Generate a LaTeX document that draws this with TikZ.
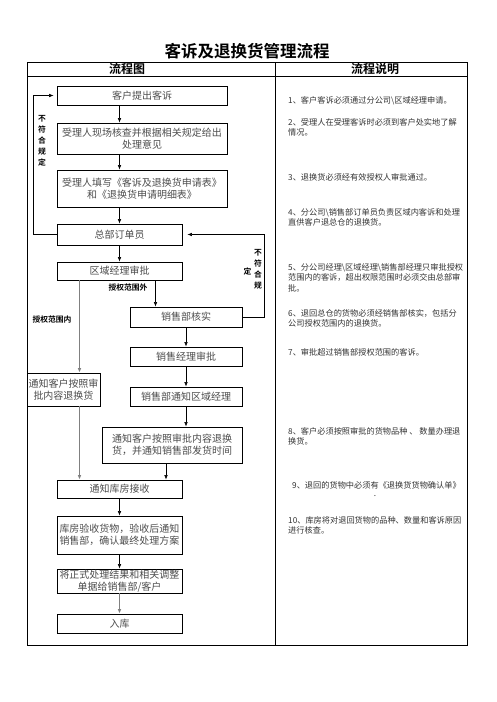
\documentclass[tikz,border=0pt]{standalone}
\usepackage{fontspec}
\setmainfont{Noto Sans CJK SC}
\newfontfamily\cjkbold{Noto Sans CJK SC Bold}
\usetikzlibrary{arrows.meta, positioning, calc}

\begin{document}
\begin{tikzpicture}[x=1pt, y=-1pt,
    box/.style={draw, line width=0.8pt, align=center, inner sep=0pt, text=black!70,
                font=\fontsize{10}{12.5}\selectfont},
    note/.style={anchor=north west, align=left, inner sep=0pt, text=black!80,
                 font=\fontsize{8.2}{10.5}\selectfont},
    tag/.style={inner sep=0pt, align=center, font=\cjkbold\fontsize{7.8}{11}\selectfont},
    head/.style={inner sep=0pt, font=\cjkbold\fontsize{12}{14}\selectfont},
    arr/.style={-{Latex[length=4.5pt, width=3.6pt]}, line width=0.6pt},
    garr/.style={arr, gray, line width=0.9pt}]
  \useasboundingbox (0,0) rectangle (496,702);
  % title and frame of the table
  \node[inner sep=0pt, font=\cjkbold\fontsize{16.5}{18}\selectfont] (title) at (247,51) {客诉及退换货管理流程};
  \draw[line width=0.8pt] (27,62) rectangle (467,645);
  \draw[line width=0.8pt] (27,76) -- (467,76) (275,62) -- (275,645);
  \node[head] (hflow) at (127,69) {流程图};
  \node[head] (hnote) at (375,69) {流程说明};

  % flow chart
  \node[box, minimum width=170pt, minimum height=19pt] (tousu)   at (142,95.5)  {客户提出客诉};
  \node[box, minimum width=170pt, minimum height=31pt] (hecha)   at (142,138.5) {受理人现场核查并根据相关规定给出\\处理意见};
  \node[box, minimum width=170pt, minimum height=37pt] (tianxie) at (142,188.5) {受理人填写《客诉及退换货申请表》\\和《退换货申请明细表》};
  \node[box, minimum width=125pt, minimum height=21pt] (dingdan) at (119.5,234.5) {总部订单员};
  \node[box, minimum width=125pt, minimum height=18pt] (quyu)    at (119.5,271) {区域经理审批};
  \node[box, minimum width=112pt, minimum height=20pt] (hesh)    at (186,317) {销售部核实};
  \node[box, minimum width=112pt, minimum height=19pt] (jingli)  at (186,356.5) {销售经理审批};
  \node[box, minimum width=112pt, minimum height=19pt] (tongzhiqy) at (186,396.5) {销售部通知区域经理};
  \node[box, minimum width=73pt, minimum height=33pt]  (leftbox) at (63.5,389.5) {通知客户按照审\\批内容退换货};
  \node[box, minimum width=140pt, minimum height=36pt] (fahuo)   at (172,445) {通知客户按照审批内容退换\\货，并通知销售部发货时间};
  \node[box, minimum width=125pt, minimum height=18pt] (kufang)  at (119.5,489) {通知库房接收};
  \node[box, minimum width=125pt, minimum height=38pt] (yanshou) at (119.5,535) {库房验收货物，验收后通知\\销售部，确认最终处理方案};
  \node[box, minimum width=125pt, minimum height=24pt] (jieguo)  at (119.5,581) {将正式处理结果和相关调整\\单据给销售部/客户};
  \node[box, minimum width=125pt, minimum height=19pt] (ruku)    at (119.5,623.5) {入库};

  \node[tag] (bufu1) at (42,140.5) {不\\符\\合\\规\\定};
  \node[tag] (bufu2) at (258,269.5) {不\\符\\合\\规};
  \node[tag] (bufu3) at (247.5,271) {定};
  \node[tag] (wai) at (128,288) {授权范围外};
  \node[tag] (nei) at (52,320) {授权范围内};

  \draw[arr] (tousu.south -| dingdan) -- (hecha.north -| dingdan);
  \draw[arr] (hecha.south -| dingdan) -- (tianxie.north -| dingdan);
  \draw[arr] (tianxie.south -| dingdan) -- (dingdan);
  \foreach \a/\b in {dingdan/quyu, hesh/jingli, jingli/tongzhiqy, kufang/yanshou, yanshou/jieguo}
    \draw[arr] (\a) -- (\b);
  \draw[arr] ([xshift=36pt]quyu.south) -- ([xshift=36pt]quyu.south |- hesh.north);
  \draw[garr] ([xshift=16pt]leftbox.north |- quyu.south) -- ([xshift=16pt]leftbox.north);
  \draw[arr] (tongzhiqy.south) -- (tongzhiqy.south |- fahuo.north);
  \draw[garr] ([xshift=16pt]leftbox.south) -- ([xshift=16pt]leftbox.south |- kufang.north);
  \draw[arr] ([xshift=-6pt]fahuo.south) -- ([xshift=-6pt]fahuo.south |- kufang.north);
  \draw[garr, line width=1.4pt] (jieguo) -- (ruku);
  % loops back when the rules are not met
  \draw[arr, shorten >=3pt] (dingdan.west) -- ++(-23,0) |- (tousu.west);
  \draw[arr, shorten >=5pt] (hesh.east) -- ++(22,0) |- (dingdan.east);

  % notes
  \node[note] (n1) at (288,96) {1、客户客诉必须通过分公司\textbackslash 区域经理申请。};
  \node[note] (n2) at (288,118) {2、受理人在受理客诉时必须到客户处实地了解\\情况。};
  \node[note] (n3) at (288,173) {3、退换货必须经有效授权人审批通过。};
  \node[note] (n4) at (288,208) {4、分公司\textbackslash 销售部订单员负责区域内客诉和处理\\直供客户退总仓的退换货。};
  \node[note] (n5) at (288,263) {5、分公司经理\textbackslash 区域经理\textbackslash 销售部经理只审批授权\\范围内的客诉，超出权限范围时必须交由总部审\\批。};
  \node[note] (n6) at (288,309) {6、退回总仓的货物必须经销售部核实，包括分\\公司授权范围内的退换货。};
  \node[note] (n7) at (288,348) {7、审批超过销售部授权范围的客诉。};
  \node[note] (n8) at (288,427) {8、客户必须按照审批的货物品种 、 数量办理退\\换货。};
  \node[note] (n9) at (292,481) {9、退回的货物中必须有《退换货货物确认单》};
  \node[note, anchor=center] (n9dot) at (375,496) {.};
  \node[note] (n10) at (288,516) {10、库房将对退回货物的品种、数量和客诉原因\\进行核查。};
\end{tikzpicture}
\end{document}
